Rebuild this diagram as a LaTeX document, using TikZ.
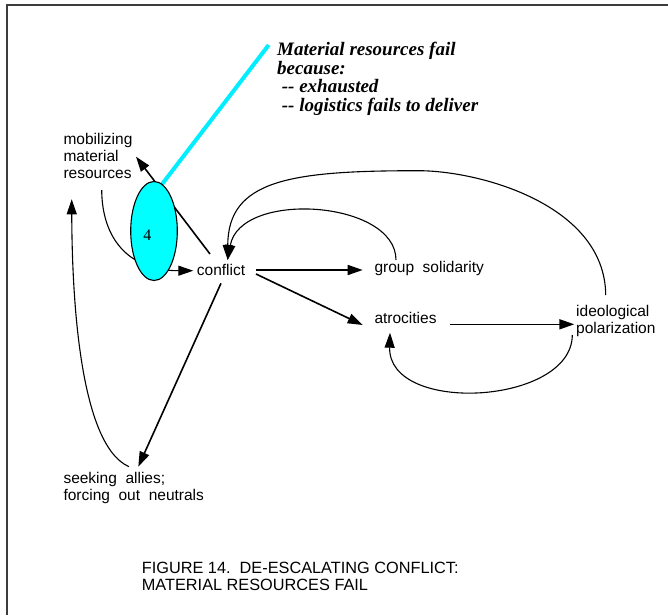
\documentclass[tikz,border=0pt]{standalone}
\usepackage{fontspec}
\setmainfont{Liberation Serif}
\setsansfont{Liberation Sans}
\usetikzlibrary{arrows.meta,shapes.geometric,calc,backgrounds}
\definecolor{aqua}{RGB}{0,255,255}
\definecolor{aqualine}{RGB}{0,238,255}
\definecolor{framegray}{RGB}{60,60,60}
\begin{document}
\begin{tikzpicture}[x=1pt,y=-1pt,
  lbl/.style={font=\sffamily\fontsize{15.5}{16.7}\selectfont, inner sep=0pt, align=left, anchor=west},
  caption/.style={font=\sffamily\fontsize{16.3}{16.7}\selectfont, inner sep=0pt, align=left, anchor=west},
  note/.style={font=\rmfamily\bfseries\itshape\fontsize{19}{18.8}\selectfont, inner sep=0pt, align=left, anchor=west},
  hub/.style={ellipse, draw, fill=aqua, line width=1.1pt, minimum width=46.6pt, minimum height=99pt, inner sep=0pt},
  arr/.style={-{Triangle[length=15pt,width=10pt]}, line width=1.6pt},
  carr/.style={-{Triangle[length=15pt,width=10pt]}, line width=1.1pt},
  crv/.style={line width=1.1pt},
  callout/.style={aqualine, line width=4pt},
  framestyle/.style={framegray, line width=1.6pt}
]
\useasboundingbox (0,0) rectangle (668,615);

% frame edges
\draw[framestyle] (6.7,615) -- (6.7,5.3) -- (668,5.3);

% labels
\node[lbl] (mob) at (63.3,156) {mobilizing\\material\\resources};
\node[lbl] (seek) at (63.3,488.3) {seeking\ \ allies;\\forcing\ \ out\ \ neutrals};
\node[lbl] (conflict) at (196.7,270) {conflict};
\node[lbl] (group) at (374.3,268.3) {group\ \ solidarity};
\node[lbl] (atro) at (374.3,318.3) {atrocities};
\node[lbl] (ideo) at (576,321) {ideological\\polarization};

% annotation and the highlighted hub
\node[note] (why) at (277,78.8) {Material resources fail\\because:\\\hspace*{4.7pt}\mbox{-}\mbox{-} exhausted\\\hspace*{4.7pt}\mbox{-}\mbox{-} logistics fails to deliver};
\coordinate (calloutend) at (268.7,45);
\node[hub] (ell) at (154,231) {};
\node[font=\rmfamily\fontsize{16}{16}\selectfont, inner sep=0pt] (num) at (147.3,235) {4};

% caption
\node[caption] (cap) at (141.7,576.6) {FIGURE 14.\ \ DE-ESCALATING CONFLICT:\\MATERIAL RESOURCES FAIL};

\begin{scope}[on background layer]
  \fill[white] (0,0) rectangle (668,615);
  \draw[callout] (calloutend) -- ($(ell.center)+(3.6,-41)$);

  % straight links out of conflict
  \draw[arr] ($(conflict.west)+(59.3,0)$) -- ($(group.west)+(-11.6,1.7)$);
  \draw[arr] ($(conflict.west)+(59.3,4)$) -- ($(atro.west)+(-11.6,6.7)$);
  \draw[arr] ($(conflict.west)+(24.3,13.3)$) -- ($(seek.west)+(75,-21.6)$);
  \draw[arr] ($(conflict.west)+(13.3,-16)$) -- ($(mob.west)+(72.7,0.7)$);
  \draw[arr] ($(atro.west)+(75.7,6)$) -- ($(ideo.west)+(-1.7,3.3)$);

  % curved feedback links
  \draw[carr] ($(mob.west)+(38.4,34)$) .. controls (102,238) and (128,270.7) .. ($(conflict.west)+(-3.4,0.7)$);
  \draw[carr] ($(seek.west)+(65.7,-21.6)$) .. controls (80,445) and (72,300) .. ($(mob.west)+(8.4,43.3)$);
  \draw[carr] ($(group.west)+(21.7,-8.3)$) .. controls (396,200) and (240,190) .. ($(conflict.west)+(31,-10)$);
  \draw[carr] ($(ideo.west)+(29.7,-26)$) .. controls (605,205) and (480,170.7) .. (418.3,170.7)
              .. controls (290,170.7) and (228,180) .. ($(conflict.west)+(31,-10)$);
  \draw[carr] ($(ideo.west)+(-3.7,14)$) .. controls (572,405) and (388,415) .. ($(atro.west)+(15.7,14.4)$);
\end{scope}
\end{tikzpicture}
\end{document}
